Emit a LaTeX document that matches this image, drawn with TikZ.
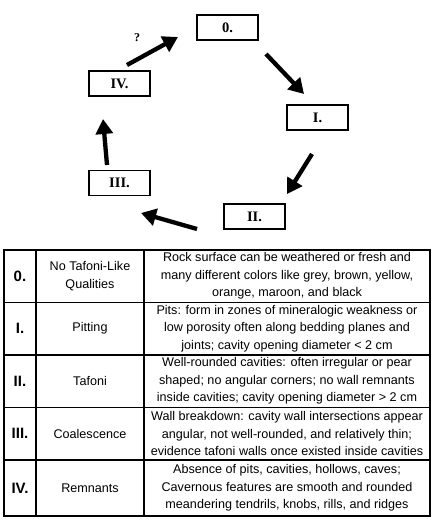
\documentclass[tikz,border=0pt]{standalone}
\usepackage{fontspec}
\setmainfont{Liberation Serif}
\setsansfont{Liberation Sans}
\usetikzlibrary{arrows.meta}
\begin{document}
\begin{tikzpicture}[x=1pt,y=-1pt,
  stagebox/.style={draw,line width=1.2pt,minimum width=61pt,minimum height=25pt,inner sep=0pt,font=\fontsize{14.5}{16}\selectfont\bfseries},
  flow/.style={line width=4.3pt,-{Triangle[width=17pt,length=15pt]}},
  qmark/.style={font=\fontsize{12}{14}\selectfont\bfseries},
  outer/.style={line width=2pt},
  inner/.style={line width=1.3pt},
  numcell/.style={font=\sffamily\bfseries\fontsize{15}{17}\selectfont,inner sep=0pt},
  namecell/.style={font=\sffamily\fontsize{12.6}{17.5}\selectfont,align=center,inner sep=0pt},
  desccell/.style={font=\sffamily\fontsize{12.6}{17.5}\selectfont,align=center,inner sep=0pt}
]
\useasboundingbox (0,0) rectangle (433,523);
% cycle boxes
\node[stagebox] (s0) at (227.5,27.5) {0.};
\node[stagebox] (s1) at (317.5,117.5) {I.};
\node[stagebox] (s2) at (254.5,216.5) {II.};
\node[stagebox] (s3) at (119.5,183) {III.};
\node[stagebox] (s4) at (119.5,83.5) {IV.};
% arrow endpoints
\coordinate (a4s) at (127,65);  \coordinate (a4e) at (178,37);
\coordinate (a0s) at (266,54);  \coordinate (a0e) at (304,94);
\coordinate (a1s) at (312,154); \coordinate (a1e) at (287,194);
\coordinate (a2s) at (197,229); \coordinate (a2e) at (141,213);
\coordinate (a3s) at (107,165); \coordinate (a3e) at (103,119);
\draw[flow] (a4s) -- (a4e);
\draw[flow] (a0s) -- (a0e);
\draw[flow] (a1s) -- (a1e);
\draw[flow] (a2s) -- (a2e);
\draw[flow] (a3s) -- (a3e);
\node[qmark] (q) at (137,38) {?};
% table grid
\draw[inner] (36,250) -- (36,516);
\draw[inner] (144,250) -- (144,516);
\foreach \yy in {302.5,355,407.5,460}{\draw[inner] (3.5,\yy) -- (430,\yy);}
\draw[outer] (3.5,250) rectangle (430,516);
% table text
\node[numcell] (n0) at (20,276) {0.};
\node[numcell] (n1) at (20,328.5) {I.};
\node[numcell] (n2) at (20,381) {II.};
\node[numcell] (n3) at (20,433.5) {III.};
\node[numcell] (n4) at (20,488) {IV.};
\node[namecell] (m0) at (90,276) {No Tafoni-Like\\Qualities};
\node[namecell] (m1) at (90,328.5) {Pitting};
\node[namecell] (m2) at (90,381) {Tafoni};
\node[namecell] (m3) at (90,433.5) {Coalescence};
\node[namecell] (m4) at (90,488) {Remnants};
\node[desccell] (d0) at (287,276) {Rock surface can be weathered or fresh and\\many different colors like grey, brown, yellow,\\orange, maroon, and black};
\node[desccell] (d1) at (287,328.5) {Pits: form in zones of mineralogic weakness or\\low porosity often along bedding planes and\\joints; cavity opening diameter < 2 cm};
\node[desccell] (d2) at (287,381) {Well-rounded cavities: often irregular or pear\\shaped; no angular corners; no wall remnants\\inside cavities; cavity opening diameter > 2 cm};
\node[desccell] (d3) at (287,433.5) {Wall breakdown: cavity wall intersections appear\\angular, not well-rounded, and relatively thin;\\evidence tafoni walls once existed inside cavities};
\node[desccell] (d4) at (287,488) {Absence of pits, cavities, hollows, caves;\\Cavernous features are smooth and rounded\\meandering tendrils, knobs, rills, and ridges};
\end{tikzpicture}
\end{document}
